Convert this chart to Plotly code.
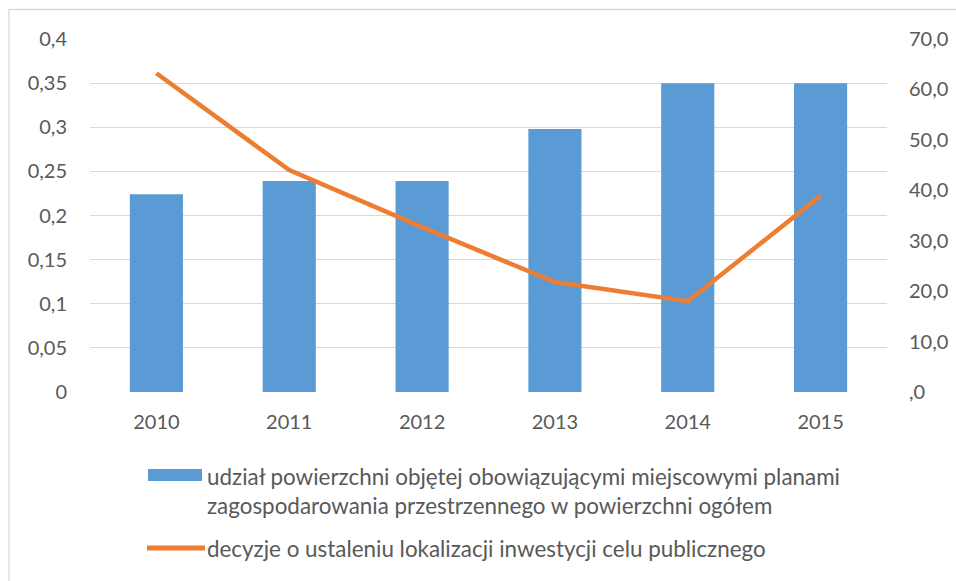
import plotly.graph_objects as go

years = ["2010", "2011", "2012", "2013", "2014", "2015"]
share_values = [0.224, 0.239, 0.239, 0.298, 0.350, 0.350]
decision_values = [63.2, 44.0, 32.7, 21.8, 18.0, 38.9]

left_tickvals = [0, 0.05, 0.1, 0.15, 0.2, 0.25, 0.3, 0.35, 0.4]
left_ticktext = ["0", "0,05", "0,1", "0,15", "0,2", "0,25", "0,3", "0,35", "0,4"]
right_tickvals = [0, 10, 20, 30, 40, 50, 60, 70]
right_ticktext = [",0", "10,0", "20,0", "30,0", "40,0", "50,0", "60,0", "70,0"]

bar_name_lines = ["udział powierzchni objętej obowiązującymi miejscowymi planami",
                  "zagospodarowania przestrzennego w powierzchni ogółem"]
line_name = "decyzje o ustaleniu lokalizacji inwestycji celu publicznego"

FONT = "Lato"
TXT = "#595959"
BAR_C = "#5B9BD5"
LINE_C = "#ED7D31"

fig = go.Figure()
fig.add_trace(go.Bar(x=years, y=share_values, name=" ".join(bar_name_lines),
                     marker=dict(color=BAR_C, line=dict(width=0)),
                     yaxis="y", showlegend=False))
fig.add_trace(go.Scatter(x=years, y=decision_values, name=line_name, mode="lines",
                         line=dict(color=LINE_C, width=4.5),
                         yaxis="y2", showlegend=False))

# plot area: x 90..887 px, y 39..392 px
PL, PR, PT, PB = 90, 887, 39, 392
W, H = PR - PL, PB - PT


def px(x):
    return (x - PL) / W


def py(y):
    return (PB - y) / H


shapes = [
    dict(type="rect", xref="paper", yref="paper",
         x0=px(9), x1=px(965), y0=py(590), y1=py(9.5),
         line=dict(color="#D9D9D9", width=1.3), fillcolor="rgba(0,0,0,0)", layer="below"),
    dict(type="rect", xref="paper", yref="paper",
         x0=px(148), x1=px(202), y0=py(481), y1=py(469),
         line=dict(width=0), fillcolor=BAR_C),
    dict(type="line", xref="paper", yref="paper",
         x0=px(147), x1=px(205), y0=py(548), y1=py(548),
         line=dict(color=LINE_C, width=5)),
]

annotations = []
for text, yc in [(bar_name_lines[0], 476), (bar_name_lines[1], 505), (line_name, 548)]:
    annotations.append(dict(text=text, xref="paper", yref="paper", x=px(205), y=py(yc),
                            xanchor="left", yanchor="middle", showarrow=False,
                            font=dict(family=FONT, size=22.4, color=TXT)))

fig.update_layout(
    width=956, height=581,
    margin=dict(l=PL, r=956 - PR, t=PT, b=581 - PB, pad=0),
    paper_bgcolor="white", plot_bgcolor="white",
    font=dict(family=FONT, size=20, color=TXT),
    bargap=0.6,
    showlegend=False,
    xaxis=dict(type="category", range=[-0.5, 5.5], showgrid=False, showline=False,
               zeroline=False, ticks="", ticklabelstandoff=16, automargin=False,
               tickfont=dict(family=FONT, size=20, color=TXT)),
    yaxis=dict(range=[0, 0.4], tickvals=left_tickvals, ticktext=left_ticktext,
               showgrid=True, gridcolor="#D9D9D9", gridwidth=1.3, zeroline=False,
               showline=False, ticks="", ticklabelstandoff=22, automargin=False,
               tickfont=dict(family=FONT, size=20, color=TXT)),
    yaxis2=dict(range=[0, 70], tickvals=right_tickvals, ticktext=right_ticktext,
                overlaying="y", side="right", showgrid=False, zeroline=False,
                showline=False, ticks="", ticklabelstandoff=21, automargin=False,
                tickfont=dict(family=FONT, size=20, color=TXT)),
    shapes=shapes,
    annotations=annotations,
)

fig.write_html("out.html", config={"displayModeBar": False},
               post_script="document.body.style.margin='0';document.body.style.padding='0';")
